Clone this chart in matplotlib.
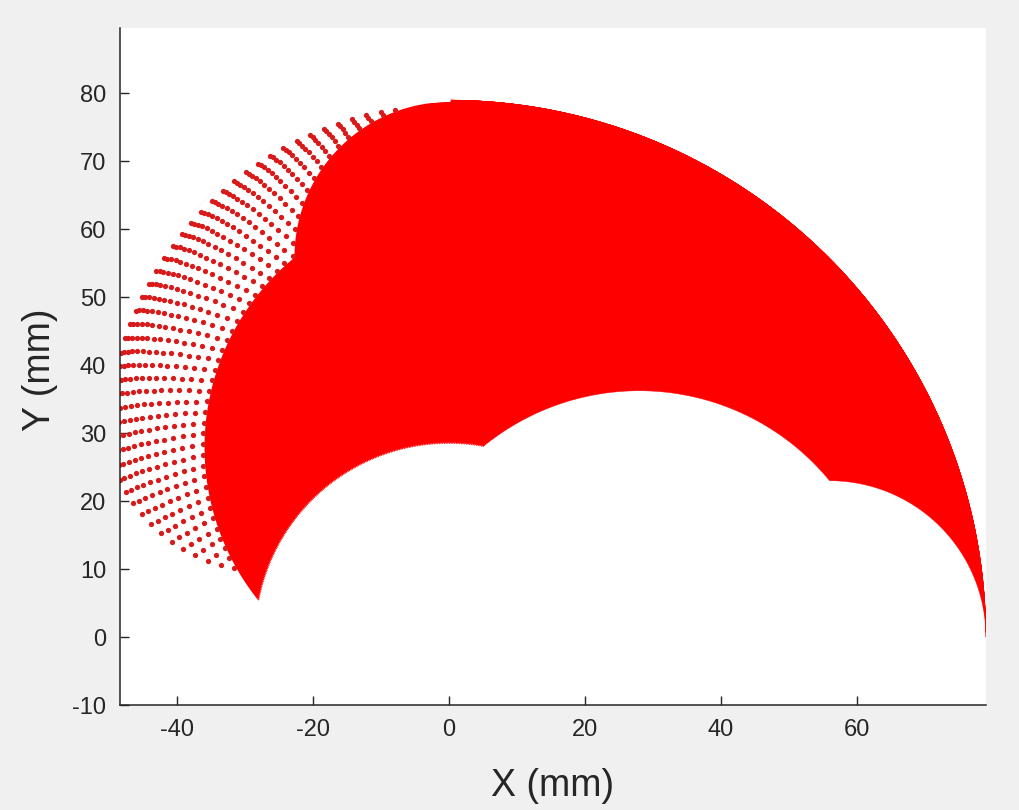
import numpy as np
import matplotlib
matplotlib.use("Agg")
import matplotlib.pyplot as plt
from matplotlib.collections import PolyCollection

plt.rcParams["axes.unicode_minus"] = False

# planar 3-link finger: link lengths (mm) and joint limits (deg)
links = [28.0, 28.0, 23.0]
joint_min = [0.0, 0.0, 0.0]
joint_max = [90.0, 90.0, 90.0]

# sampling of the joint space (deg)
base_step = 0.5                 # fine sweep of joint 1 -> solid area
dot_t2 = (0.0, 80.0, 2.5)       # coarse grid at the joint-1 limit -> loose dots
dot_t3 = (20.0, 90.0, 5.0)

x_ticks = [-40, -20, 0, 20, 40, 60]
y_ticks = [-10, 0, 10, 20, 30, 40, 50, 60, 70, 80]
x_lim = (-48.4, 79.0)
y_lim = (-10.0, 89.6)

RED = "#ff0000"
INK = "#262626"


def tip(t1, t2, t3):
    a1 = np.radians(t1)
    a2 = a1 + np.radians(t2)
    a3 = a2 + np.radians(t3)
    x = links[0] * np.cos(a1) + links[1] * np.cos(a2) + links[2] * np.cos(a3)
    y = links[0] * np.sin(a1) + links[1] * np.sin(a2) + links[2] * np.sin(a3)
    return x, y


def outline(t1, n=80):
    # boundary of the (joint2, joint3) square mapped to the plane
    a = np.linspace(joint_min[1], joint_max[1], n)
    b = np.linspace(joint_min[2], joint_max[2], n)
    t2 = np.concatenate([a, np.full(n, joint_max[1]), a[::-1], np.full(n, joint_min[1])])
    t3 = np.concatenate([np.full(n, joint_min[2]), b, np.full(n, joint_max[2]), b[::-1]])
    x, y = tip(t1, t2, t3)
    return np.column_stack([x, y])


fig = plt.figure(figsize=(10.2, 8.1), dpi=100, facecolor="#f0f0f0")
ax = fig.add_axes([0.1176, 0.1296, 0.849, 0.8358])
ax.set_facecolor("white")

# dense part of the workspace
t1_fine = np.arange(joint_min[0], joint_max[0] + 1e-9, base_step)
polys = [outline(t) for t in t1_fine]
ax.add_collection(PolyCollection(polys, facecolors=RED, edgecolors=RED,
                                 linewidths=0.3, zorder=1))

# region only reached at the joint-1 limit: drawn as loose points
ax.add_collection(PolyCollection([outline(joint_max[0])], facecolors="white",
                                 edgecolors="white", linewidths=2.0, zorder=1.5))
g2, g3 = np.meshgrid(np.arange(dot_t2[0], dot_t2[1] + 1e-9, dot_t2[2]),
                     np.arange(dot_t3[0], dot_t3[1] + 1e-9, dot_t3[2]))
dx, dy = tip(joint_max[0], g2.ravel(), g3.ravel())
ax.plot(dx, dy, linestyle="none", marker="o", ms=3.8, mew=0,
        color="#d81a1a", zorder=2)

ax.set_xlim(*x_lim)
ax.set_ylim(*y_lim)
ax.set_xticks(x_ticks)
ax.set_yticks(y_ticks)
for s in ["top", "right"]:
    ax.spines[s].set_visible(False)
for s in ["left", "bottom"]:
    ax.spines[s].set_color(INK)
    ax.spines[s].set_linewidth(1.1)
ax.tick_params(direction="in", length=6.5, width=1.0, color=INK,
               labelcolor=INK, labelsize=17, pad=10)
for lab in ax.get_xticklabels() + ax.get_yticklabels():
    lab.set_family("Liberation Sans")

ax.set_xlabel("X (mm)", fontsize=27, color=INK, family="Liberation Sans",
              va="center")
ax.xaxis.set_label_coords(0.5, -0.1196)
ax.set_ylabel("Y (mm)", fontsize=27, color=INK, family="Liberation Sans",
              va="center")
ax.yaxis.set_label_coords(-0.0924, 0.495)

fig.savefig("out.png", dpi=100, facecolor=fig.get_facecolor())
